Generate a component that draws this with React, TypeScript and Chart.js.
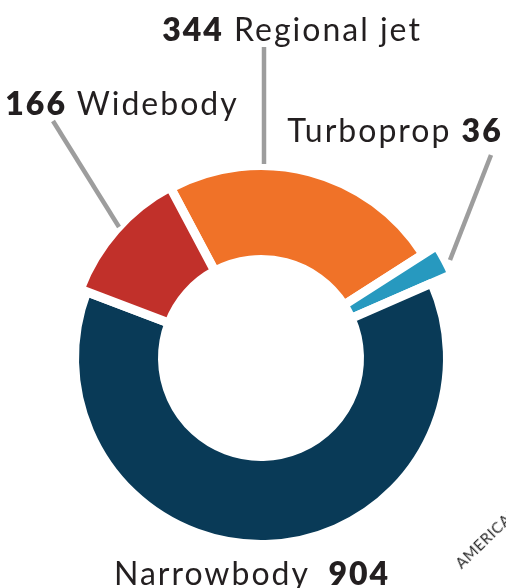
import React, { useEffect, useRef } from "react";
import { Chart, registerables } from "chart.js";

Chart.register(...registerables);

// ---- data (clockwise from the top-left gap) ----
const categories = ["Regional jet", "Turboprop", "Narrowbody", "Widebody"];
const aircraftCounts = [344, 36, 904, 166];
const numberFirst = [true, false, false, true];

// ---- styles / layout ----
const sliceColors = ["#f07228", "#2799bf", "#093a57", "#c1302a"];
const sliceReach = [0, 16, -6, 1]; // extra outer reach of a slice, px
const W = 506;
const H = 588;
const GAP = 9;
const OUTER = 188 + GAP / 2;
const INNER = 103 - GAP / 2;
const TEXT = "#231f20";
const LEADER = "#9d9d9d";

// label anchors: centre x, baseline y
const labelPos = [
  [292, 41],
  [395, 142],
  [252, 585],
  [122, 115],
];
const numberGap = [0, 0, 9, 0]; // extra space before/after the number
// leader lines relative to chart centre: [x1, y1, x2, y2] (null = none)
const leaders: (number[] | null)[] = [
  [3, -311, 3, -194],
  [230, -203, 189, -98],
  null,
  [-208, -237, -142, -131],
];

const reachPlugin = {
  id: "reach",
  afterDatasetUpdate(chart: any, args: any) {
    const meta = args.meta;
    meta.data.forEach((arc: any, i: number) => {
      arc.outerRadius = arc.outerRadius + (sliceReach[i] || 0);
    });
  },
};

const leaderPlugin = {
  id: "leaders",
  afterDatasetsDraw(chart: any) {
    const arc = chart.getDatasetMeta(0).data[0];
    if (!arc) return;
    const cx = arc.x;
    const cy = arc.y;
    const ctx = chart.ctx;
    ctx.save();
    ctx.strokeStyle = LEADER;
    ctx.lineWidth = 4.5;
    ctx.lineCap = "butt";
    leaders.forEach((l) => {
      if (!l) return;
      ctx.beginPath();
      ctx.moveTo(cx + l[0], cy + l[1]);
      ctx.lineTo(cx + l[2], cy + l[3]);
      ctx.stroke();
    });
    ctx.restore();
  },
};

export default function App() {
  const ref = useRef<HTMLCanvasElement>(null);
  useEffect(() => {
    const chart = new Chart(ref.current as HTMLCanvasElement, {
      type: "doughnut",
      data: {
        labels: categories,
        datasets: [
          {
            data: aircraftCounts,
            backgroundColor: sliceColors,
            borderColor: "#ffffff",
            borderWidth: GAP,
            hoverOffset: 0,
          },
        ],
      },
      options: {
        responsive: false,
        animation: false,
        events: [],
        rotation: -28,
        radius: OUTER,
        cutout: (INNER / OUTER) * 100 + "%",
        layout: { padding: { left: 16, right: 0, top: 128, bottom: 0 } },
        plugins: {
          legend: { display: false },
          tooltip: { enabled: false },
        },
      } as any,
      plugins: [reachPlugin, leaderPlugin],
    });
    return () => chart.destroy();
  }, []);

  const fontSize = 32;
  const baselineFromTop = 0.887 * fontSize;

  return (
    <div
      style={{
        position: "absolute",
        left: 0,
        top: 0,
        width: W,
        height: H,
        overflow: "hidden",
        background: "#ffffff",
      }}
    >
      <canvas
        ref={ref}
        width={W}
        height={H}
        style={{ position: "absolute", left: 0, top: 0 }}
      />
      {categories.map((name, i) => {
        const g = numberGap[i];
        const num = (
          <span
            style={{
              fontWeight: 800,
              marginLeft: numberFirst[i] ? 0 : g,
              marginRight: numberFirst[i] ? g : 0,
            }}
          >
            {aircraftCounts[i]}
          </span>
        );
        const label = <span style={{ fontWeight: 400 }}>{name}</span>;
        return (
          <div
            key={name}
            style={{
              position: "absolute",
              left: labelPos[i][0],
              top: labelPos[i][1] - baselineFromTop,
              transform: "translateX(-50%)",
              whiteSpace: "nowrap",
              fontFamily: "Lato, sans-serif",
              fontSize,
              lineHeight: 1,
              letterSpacing: 2,
              color: TEXT,
            }}
          >
            {numberFirst[i] ? (
              <>
                {num} {label}
              </>
            ) : (
              <>
                {label} {num}
              </>
            )}
          </div>
        );
      })}
      <div
        style={{
          position: "absolute",
          left: 463,
          top: 556,
          transform: "rotate(-44deg)",
          transformOrigin: "0 100%",
          whiteSpace: "nowrap",
          fontFamily: "Lato, sans-serif",
          fontWeight: 400,
          fontSize: 15,
          lineHeight: 1,
          letterSpacing: 0.6,
          color: "#2a2a2a",
        }}
      >
        AMERICAN
      </div>
    </div>
  );
}
